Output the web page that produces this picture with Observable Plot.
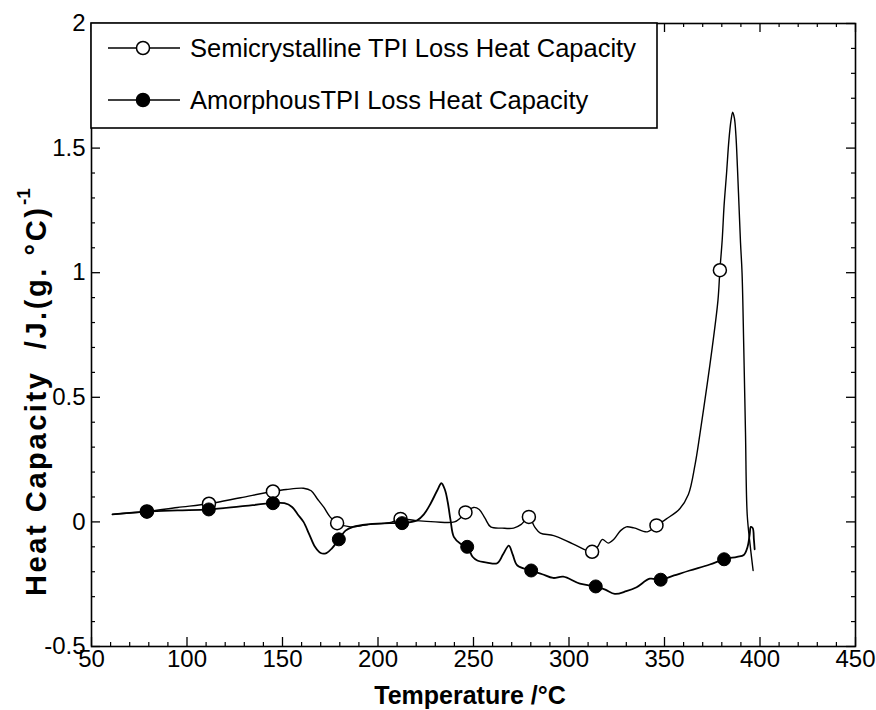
<!DOCTYPE html>
<html>
<head>
<meta charset="utf-8">
<script src="https://cdn.jsdelivr.net/npm/d3@7"></script>
<script src="https://cdn.jsdelivr.net/npm/@observablehq/plot@0.6"></script>
<style>
  body { margin: 0; background: #fff; }
  svg { display: block; }
</style>
</head>
<body>
<div id="chart"></div>
<script>
// ---- Data ----
const seriesNames = ["Semicrystalline TPI Loss Heat Capacity", "AmorphousTPI Loss Heat Capacity"];

const xTickValues = [50, 100, 150, 200, 250, 300, 350, 400, 450];
const yTickValues = [-0.5, 0, 0.5, 1, 1.5, 2];
const xMinorValues = [60,70,80,90,110,120,130,140,160,170,180,190,210,220,230,240,260,270,280,290,310,320,330,340,360,370,380,390,410,420,430,440];
const yMinorValues = [-0.4,-0.3,-0.2,-0.1,0.1,0.2,0.3,0.4,0.6,0.7,0.8,0.9,1.1,1.2,1.3,1.4,1.6,1.7,1.8,1.9];

// Semicrystalline curve (temperature °C, heat capacity)
const semiT = [61, 70, 79, 95, 111.5, 128, 145, 152, 161, 165, 168, 171.6, 175, 178.6, 185.6, 195, 206, 211.8, 220, 230, 240, 243, 245.8, 250, 253, 256, 259, 265, 271, 275, 279, 282, 285, 292, 302, 312.1, 315, 317.5, 320.5, 323.5, 327, 330, 334, 341, 345.8, 351, 358, 362.5, 366, 368.5, 372.3, 375, 378, 379, 380.2, 381.2, 382.5, 383.7, 384.8, 385.7, 386.6, 387.4, 388.2, 389, 389.8, 390.6, 391.5, 392.4, 393.3, 394.8, 396.4];
const semiV = [0.03, 0.036, 0.042, 0.058, 0.073, 0.097, 0.122, 0.13, 0.135, 0.125, 0.095, 0.059, 0.019, -0.005, -0.02, -0.01, -0.003, 0.012, 0.005, 0.0, 0.0, 0.015, 0.038, 0.058, 0.05, 0.015, -0.02, -0.025, -0.025, -0.01, 0.02, -0.02, -0.045, -0.055, -0.088, -0.12, -0.1, -0.07, -0.085, -0.07, -0.035, -0.02, -0.024, -0.04, -0.014, 0.012, 0.053, 0.11, 0.23, 0.35, 0.55, 0.70, 0.89, 1.01, 1.13, 1.27, 1.40, 1.53, 1.61, 1.644, 1.62, 1.55, 1.42, 1.27, 1.12, 1.0, 0.7, 0.36, 0.03, -0.09, -0.195];

// Amorphous curve
const amorT = [61, 79, 95, 111.4, 128, 145, 151, 155, 158, 161, 164, 167, 170, 173, 176, 179.5, 183, 187, 195, 206, 212.6, 220.5, 224, 227.5, 231, 233.2, 235, 236.5, 238, 239.7, 243.2, 246.7, 249.5, 252, 257, 262.4, 265.5, 268.5, 270.5, 273, 280.2, 286, 291.7, 297, 305.7, 314, 319, 324, 330, 335.4, 342.3, 348, 355, 363.2, 373.7, 381.2, 388, 391.5, 393.5, 394.6, 395.2, 396.2, 396.8, 397.2];
const amorV = [0.03, 0.041, 0.046, 0.05, 0.062, 0.075, 0.075, 0.06, 0.03, 0.0, -0.05, -0.1, -0.125, -0.125, -0.105, -0.07, -0.035, -0.02, -0.01, -0.005, -0.005, 0.006, 0.03, 0.073, 0.126, 0.155, 0.13, 0.08, 0.006, -0.06, -0.088, -0.10, -0.14, -0.155, -0.163, -0.166, -0.13, -0.095, -0.13, -0.175, -0.195, -0.21, -0.225, -0.22, -0.248, -0.259, -0.272, -0.289, -0.278, -0.262, -0.228, -0.232, -0.215, -0.195, -0.171, -0.15, -0.14, -0.133, -0.1, -0.05, -0.02, -0.025, -0.07, -0.11];

// Marker positions
const semiMarkT = [79, 111.5, 145, 178.6, 211.8, 245.8, 279, 312.1, 345.8, 379];
const semiMarkV = [0.042, 0.073, 0.122, -0.005, 0.012, 0.038, 0.02, -0.12, -0.014, 1.01];
const amorMarkT = [79, 111.4, 145, 179.5, 212.6, 246.7, 280.2, 314, 348, 381.2];
const amorMarkV = [0.041, 0.05, 0.075, -0.07, -0.005, -0.10, -0.195, -0.259, -0.232, -0.15];

// ---- Build tables ----
const semi = semiT.map((t, i) => ({t, v: semiV[i]}));
const amor = amorT.map((t, i) => ({t, v: amorV[i]}));
const semiMarks = semiMarkT.map((t, i) => ({t, v: semiMarkV[i]}));
const amorMarks = amorMarkT.map((t, i) => ({t, v: amorMarkV[i]}));

const W = 876, H = 710;
const mL = 91, mR = 21, mT = 23, mB = 64;
const innerW = W - mL - mR, innerH = H - mT - mB;
const FONT = "'Liberation Sans', Arial, Helvetica, sans-serif";

const chart = Plot.plot({
  width: W, height: H,
  marginLeft: mL, marginRight: mR, marginTop: mT, marginBottom: mB,
  style: {fontFamily: FONT, background: "white", color: "black", overflow: "visible"},
  x: {domain: [50, 450]},
  y: {domain: [-0.5, 2]},
  marks: [
    Plot.axisX({ticks: xTickValues, tickSize: 0, tickPadding: 3, fontSize: 24, label: null, tickFormat: d => String(d)}),
    Plot.axisY({ticks: yTickValues, tickSize: 0, tickPadding: 6, fontSize: 24, label: null, tickFormat: d => String(d)}),
    // inward ticks, bottom & top
    Plot.tickX(xMinorValues, {x: d => d, insetTop: innerH - 4, strokeWidth: 1.2}),
    Plot.tickX(xMinorValues, {x: d => d, insetBottom: innerH - 4, strokeWidth: 1.2}),
    Plot.tickX(xTickValues, {x: d => d, insetTop: innerH - 9, strokeWidth: 1.3}),
    Plot.tickX(xTickValues, {x: d => d, insetBottom: innerH - 9, strokeWidth: 1.3}),
    // inward ticks, left & right
    Plot.tickY(yMinorValues, {y: d => d, insetRight: innerW - 4, strokeWidth: 1.2}),
    Plot.tickY(yMinorValues, {y: d => d, insetLeft: innerW - 4, strokeWidth: 1.2}),
    Plot.tickY(yTickValues, {y: d => d, insetRight: innerW - 9, strokeWidth: 1.3}),
    Plot.tickY(yTickValues, {y: d => d, insetLeft: innerW - 9, strokeWidth: 1.3}),
    Plot.frame({stroke: "black", strokeWidth: 1.6}),
    Plot.line(semi, {x: "t", y: "v", curve: "catmull-rom", stroke: "black", strokeWidth: 1.4}),
    Plot.line(amor, {x: "t", y: "v", curve: "catmull-rom", stroke: "black", strokeWidth: 1.8}),
    Plot.dot(semiMarks, {x: "t", y: "v", r: 6.5, fill: "white", stroke: "black", strokeWidth: 1.5}),
    Plot.dot(amorMarks, {x: "t", y: "v", r: 6.5, fill: "black", stroke: "black", strokeWidth: 1})
  ]
});

document.getElementById("chart").appendChild(chart);

// ---- Legend, axis titles ----
const svg = d3.select(chart);

const lg = svg.append("g").attr("font-family", FONT).attr("text-anchor", "start");
lg.append("rect")
  .attr("x", mL).attr("y", mT)
  .attr("width", 657 - mL).attr("height", 128 - mT)
  .attr("fill", "white").attr("stroke", "black").attr("stroke-width", 1.6);

const legendRows = [
  {name: seriesNames[0], y: 48, fill: "white"},
  {name: seriesNames[1], y: 100, fill: "black"}
];
legendRows.forEach(row => {
  lg.append("line").attr("x1", 108).attr("x2", 180).attr("y1", row.y).attr("y2", row.y)
    .attr("stroke", "black").attr("stroke-width", 1.5);
  lg.append("circle").attr("cx", 143).attr("cy", row.y).attr("r", 6.5)
    .attr("fill", row.fill).attr("stroke", "black").attr("stroke-width", 1.5);
  lg.append("text").attr("x", 190).attr("y", row.y + 9)
    .attr("text-anchor", "start")
    .attr("font-size", 25.5).attr("fill", "black").text(row.name);
});

// X title
svg.append("text")
  .attr("x", 470).attr("y", 704)
  .attr("text-anchor", "middle").attr("font-family", FONT)
  .attr("font-weight", "bold").attr("font-size", 25)
  .text("Temperature /°C");

// Y title (bottom-to-top)
svg.append("text")
  .attr("transform", "translate(46,596) rotate(-90)")
  .attr("text-anchor", "start").attr("font-family", FONT)
  .attr("font-weight", "bold").attr("font-size", 29)
  .attr("textLength", 388).attr("lengthAdjust", "spacing")
  .attr("style", "white-space:pre")
  .text("Heat Capacity  /J.(g. °C)");
svg.append("text")
  .attr("transform", "translate(30,205) rotate(-90)")
  .attr("text-anchor", "start").attr("font-family", FONT)
  .attr("font-weight", "bold").attr("font-size", 19)
  .text("-1");
</script>
</body>
</html>
